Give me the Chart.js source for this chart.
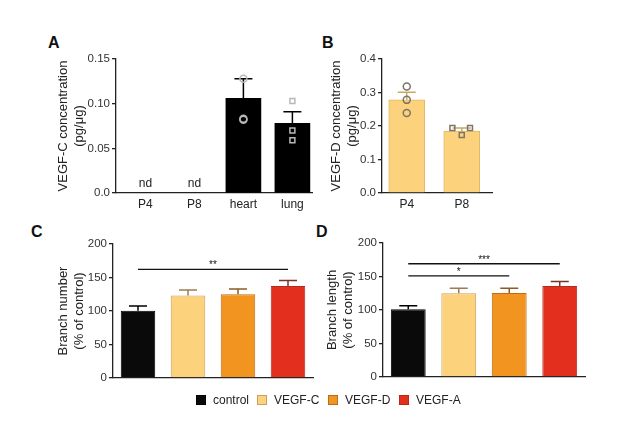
<!DOCTYPE html>
<html>
<head>
<meta charset="utf-8">
<script src="https://cdn.jsdelivr.net/npm/chart.js@4.4.0/dist/chart.umd.min.js"></script>
<style>
    body { margin: 0; background: #fff; font-family: "Liberation Sans", Arial, sans-serif; }
    #wrap { position: relative; width: 617px; height: 422px; overflow: hidden; }
    canvas { position: absolute; }
    .letter { position: absolute; font-weight: bold; font-size: 16px; color: #111; line-height: 1; }
    .item { position: absolute; top: 393px; font-size: 12px; color: #222; display: flex; align-items: center; }
    .item span { display: inline-block; width: 10px; height: 10px; margin-right: 7px; box-sizing: border-box; }
</style>
</head>
<body>
<div id="wrap">
    <div class="letter" style="left:48px;top:35px">A</div>
    <div class="letter" style="left:322px;top:35px">B</div>
    <div class="letter" style="left:31px;top:224px">C</div>
    <div class="letter" style="left:316px;top:224px">D</div>

    <canvas id="chartA" width="280" height="170" style="left:40px;top:45px"></canvas>
    <canvas id="chartB" width="185" height="170" style="left:315px;top:45px"></canvas>
    <canvas id="chartC" width="285" height="170" style="left:35px;top:230px"></canvas>
    <canvas id="chartD" width="290" height="170" style="left:305px;top:229px"></canvas>

    <div id="legend"></div>
</div>

<script>
// panel A : VEGF-C concentration
const aCategories = ['P4', 'P8', 'heart', 'lung'];
const aMeans = [null, null, 0.106, 0.078];
const aSem = [null, null, 0.022, 0.013];
const aNd = ['nd', 'nd', null, null];
const aHeartPoints = [0.128, 0.083, 0.082];
const aLungPoints = [0.103, 0.070, 0.059];
const aTicks = [0, 0.05, 0.10, 0.15];

// panel B : VEGF-D concentration
const bCategories = ['P4', 'P8'];
const bMeans = [0.278, 0.185];
const bSem = [0.023, 0.009];
const bP4Points = [0.318, 0.278, 0.239];
const bP8Points = [0.194, 0.194, 0.173];
const bP8Jitter = [-0.17, 0.15, 0];
const bTicks = [0, 0.1, 0.2, 0.3, 0.4];

// panels C and D : branch number / length
const groups = ['control', 'VEGF-C', 'VEGF-D', 'VEGF-A'];
const cMeans = [100.5, 123, 125, 137.5];
const cSem = [7, 8.5, 8, 8];
const dMeans = [101, 125, 125.5, 136];
const dSem = [5.5, 7.5, 7, 6.5];
const pctTicks = [0, 50, 100, 150, 200];
// [from, to, stars, height]
const cSig = [[0, 3, '**', 162]];
const dSig = [[0, 2, '*', 151], [0, 3, '***', 169]];

const groupColors = ['#0a0a0a', '#FDD27C', '#F29420', '#E3301E'];
const groupBorders = ['#000000', '#c9a060', '#bf6d14', '#b52a1c'];
const groupErr = ['#000000', '#9c7c52', '#8f5a26', '#7d3426'];

const FONT = '"Liberation Sans", Arial, sans-serif';

// upper error bar with cap, drawn right after the bars
function errorBars(means, sems, colors) {
    return {
        id: 'errorBars',
        afterDatasetDraw(chart, args) {
            if (args.index !== 0) return;
            const x = chart.scales.x, y = chart.scales.y, ctx = chart.ctx;
            ctx.save();
            ctx.lineWidth = 1.5;
            means.forEach((m, i) => {
                if (m == null) return;
                const px = x.getPixelForValue(i);
                const y0 = y.getPixelForValue(m), y1 = y.getPixelForValue(m + sems[i]);
                ctx.strokeStyle = colors[i];
                ctx.beginPath();
                ctx.moveTo(px, y0); ctx.lineTo(px, y1);
                ctx.moveTo(px - 9, y1); ctx.lineTo(px + 9, y1);
                ctx.stroke();
            });
            ctx.restore();
        }
    };
}

function sigLines(rows) {
    return {
        id: 'sigLines',
        afterDatasetsDraw(chart) {
            const x = chart.scales.x, y = chart.scales.y, ctx = chart.ctx;
            ctx.save();
            ctx.strokeStyle = '#111';
            ctx.fillStyle = '#111';
            ctx.lineWidth = 1.3;
            ctx.font = '10px ' + FONT;
            ctx.textAlign = 'center';
            ctx.textBaseline = 'bottom';
            rows.forEach(([a, b, label, v]) => {
                const x0 = x.getPixelForValue(a), x1 = x.getPixelForValue(b), py = y.getPixelForValue(v);
                ctx.beginPath(); ctx.moveTo(x0, py); ctx.lineTo(x1, py); ctx.stroke();
                ctx.fillText(label, (x0 + x1) / 2, py + 1);
            });
            ctx.restore();
        }
    };
}

function ndLabels(labels) {
    return {
        id: 'ndLabels',
        afterDatasetsDraw(chart) {
            const x = chart.scales.x, y = chart.scales.y, ctx = chart.ctx;
            ctx.save();
            ctx.fillStyle = '#222';
            ctx.font = '12px ' + FONT;
            ctx.textAlign = 'center';
            ctx.textBaseline = 'bottom';
            labels.forEach((t, i) => {
                if (t) ctx.fillText(t, x.getPixelForValue(i), y.getPixelForValue(0) - 3);
            });
            ctx.restore();
        }
    };
}

function yAxis(ticks, fmt, title, titlePad, width) {
    return {
        min: ticks[0],
        max: ticks[ticks.length - 1],
        afterBuildTicks: s => { s.ticks = ticks.map(v => ({ value: v })); },
        afterFit: s => { s.width = width; },
        border: { color: '#222', width: 1.3 },
        grid: { drawOnChartArea: false, drawTicks: true, tickLength: 4, color: '#222', lineWidth: 1.3 },
        ticks: { padding: 2, color: '#333', font: { family: FONT, size: 11.5 }, callback: fmt },
        title: {
            display: true,
            text: title,
            color: '#222',
            font: { family: FONT, size: 13, lineHeight: 1.25 },
            padding: { top: titlePad, bottom: 0 }
        }
    };
}

const xTickStyle = { padding: 4, color: '#222', font: { family: FONT, size: 12 } };

// numeric x axis so that dots can be spread sideways inside a category
function indexAxis(categories, lo, hi) {
    return {
        type: 'linear',
        offset: false,
        bounds: 'data',
        min: lo,
        max: hi,
        afterDataLimits: s => { s.min = lo; s.max = hi; },
        afterBuildTicks: s => { s.ticks = categories.map((c, i) => ({ value: i })); },
        afterFit: s => { s.height = 22; },
        border: { color: '#222', width: 1.3 },
        grid: { display: false, drawTicks: false, offset: false },
        ticks: Object.assign({ callback: v => categories[v] }, xTickStyle)
    };
}

function categoryAxis() {
    return {
        offset: true,
        afterFit: s => { s.height = 22; },
        border: { color: '#222', width: 1.3 },
        grid: { display: false, drawTicks: false },
        ticks: Object.assign({ display: false }, xTickStyle)
    };
}

const baseOptions = (right) => ({
    responsive: false,
    animation: false,
    events: [],
    layout: { padding: { top: 14, right: right, bottom: 0, left: 0 } },
    plugins: { legend: { display: false }, tooltip: { enabled: false } }
});

// dots go on top of the bars (lower order is drawn later)
const dots = (data, style, color) => ({
    type: 'scatter',
    order: 0,
    data: data,
    pointStyle: style,
    pointRadius: 3.5,
    borderWidth: 1.5,
    borderColor: color,
    backgroundColor: 'rgba(0,0,0,0)'
});

// A
new Chart(document.getElementById('chartA'), {
    type: 'bar',
    data: {
        datasets: [{
            order: 1,
            data: aMeans.map((v, i) => ({ x: i, y: v })),
            backgroundColor: '#000',
            barThickness: 35,
            grouped: false
        },
        dots(aHeartPoints.map(v => ({ x: aCategories.indexOf('heart'), y: v })), 'circle', '#b8b8b8'),
        dots(aLungPoints.map(v => ({ x: aCategories.indexOf('lung'), y: v })), 'rect', '#b8b8b8')]
    },
    options: Object.assign(baseOptions(8), {
        scales: {
            x: indexAxis(aCategories, -0.6, 3.4),
            y: yAxis(aTicks, v => v === 0 ? '0.0' : v.toFixed(2), ['VEGF-C concentration', '(pg/μg)'], 15, 76)
        }
    }),
    plugins: [errorBars(aMeans, aSem, ['#000', '#000', '#000', '#000']), ndLabels(aNd)]
});

// B
new Chart(document.getElementById('chartB'), {
    type: 'bar',
    data: {
        datasets: [{
            order: 1,
            data: bMeans.map((v, i) => ({ x: i, y: v })),
            backgroundColor: '#FDD27C',
            borderColor: '#e0b868',
            borderWidth: 1,
            barThickness: 36,
            grouped: false
        },
        dots(bP4Points.map(v => ({ x: 0, y: v })), 'circle', '#7d7468'),
        dots(bP8Points.map((v, i) => ({ x: 1 + bP8Jitter[i], y: v })), 'rect', '#7d7468')]
    },
    options: Object.assign(baseOptions(8), {
        scales: {
            x: indexAxis(bCategories, -0.45, 1.55),
            y: yAxis(bTicks, v => v.toFixed(1), ['VEGF-D concentration', '(pg/μg)'], 13, 67)
        }
    }),
    plugins: [errorBars(bMeans, bSem, ['#c9a86a', '#c9a86a'])]
});

// C and D
function groupChart(id, means, sems, sig, title, titlePad, right) {
    new Chart(document.getElementById(id), {
        type: 'bar',
        data: {
            labels: groups,
            datasets: [{
                data: means,
                backgroundColor: groupColors,
                borderColor: groupBorders,
                borderWidth: 1,
                barPercentage: 0.69,
                categoryPercentage: 1
            }]
        },
        options: Object.assign(baseOptions(right), {
            scales: {
                x: categoryAxis(),
                y: yAxis(pctTicks, v => String(v), title, titlePad, 78)
            }
        }),
        plugins: [errorBars(means, sems, groupErr), sigLines(sig)]
    });
}

groupChart('chartC', cMeans, cSem, cSig, ['Branch number', '(% of control)'], 20, 7);
groupChart('chartD', dMeans, dSem, dSig, ['Branch length', '(% of control)'], 19, 10);

// legend
const legendLeft = [196, 257, 328, 399];
const legend = document.getElementById('legend');
groups.forEach((g, i) => {
    const item = document.createElement('div');
    item.className = 'item';
    item.style.left = legendLeft[i] + 'px';
    item.innerHTML = '<span style="background:' + groupColors[i] + ';border:1px solid ' + groupBorders[i] + '"></span>' + g;
    legend.appendChild(item);
});
</script>
</body>
</html>
